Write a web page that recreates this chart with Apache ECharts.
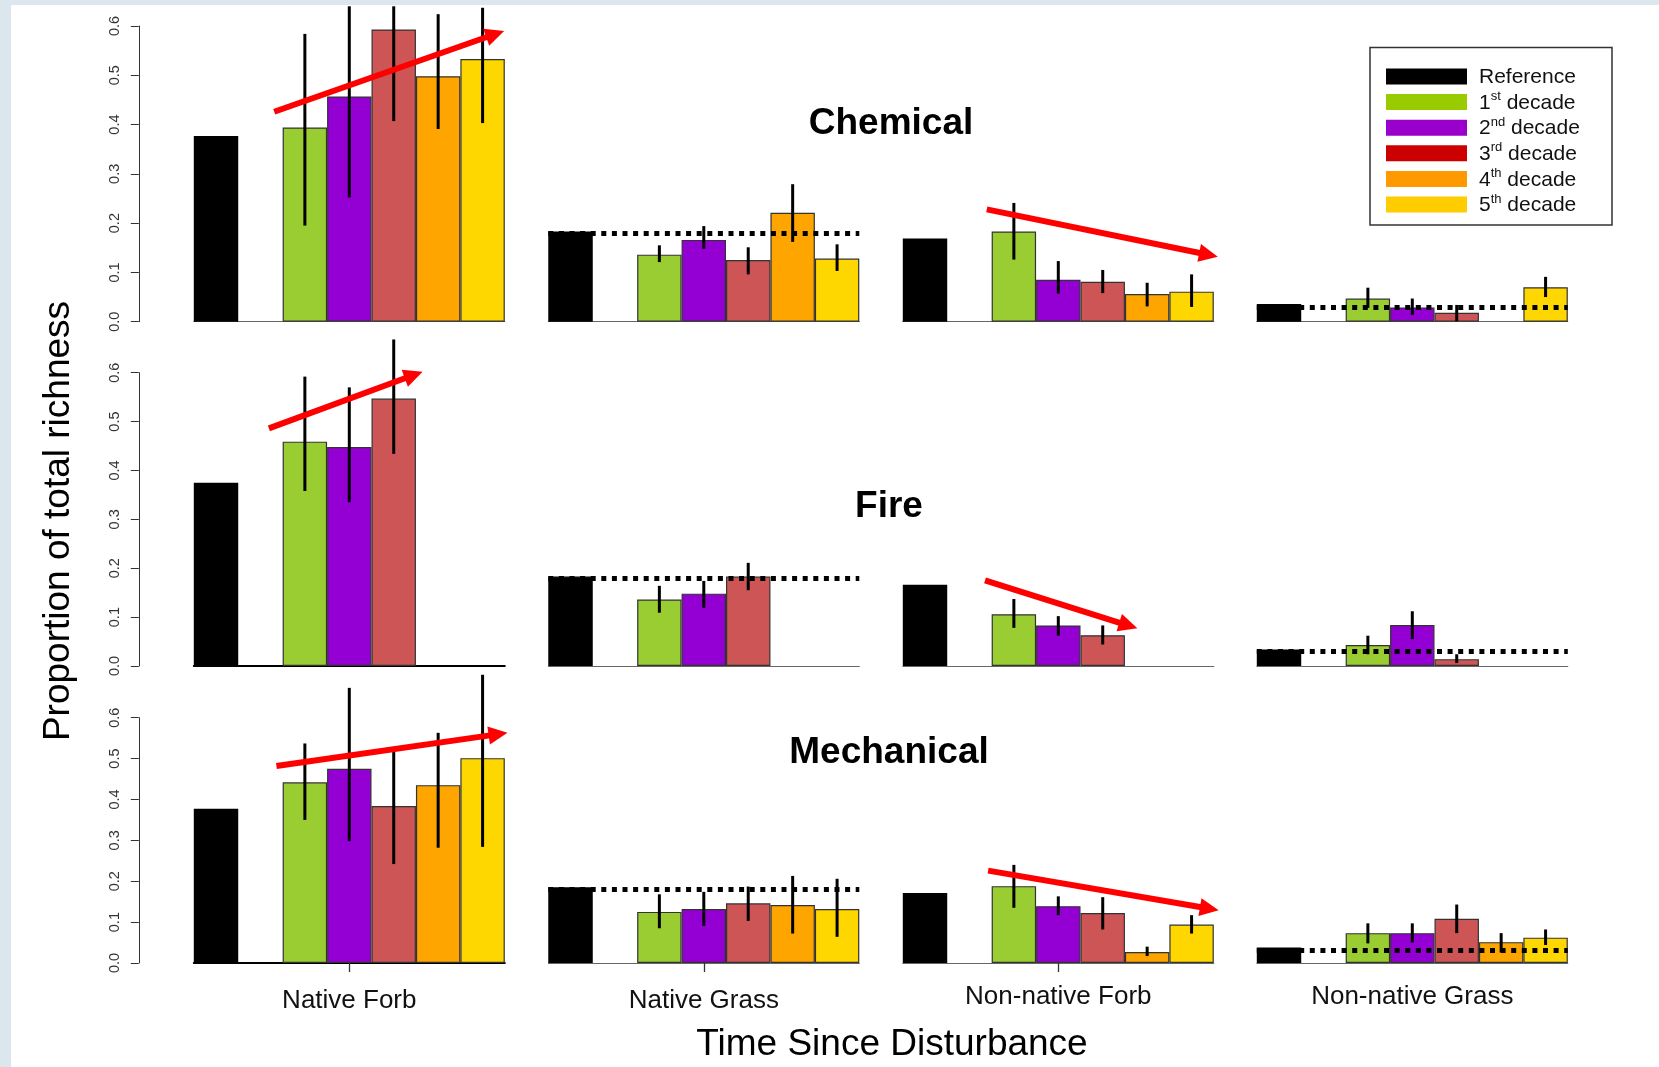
<!DOCTYPE html>
<html><head><meta charset="utf-8">
<script src="https://cdn.jsdelivr.net/npm/echarts@6/dist/echarts.min.js"></script>
<style>html,body{margin:0;padding:0;background:#fff}#c{width:1659px;height:1067px}</style>
</head><body><div id="c"></div>
<script>
// ---------- DATA ----------
const rowTitles = ['Chemical', 'Fire', 'Mechanical'];
const groupNames = ['Native Forb', 'Native Grass', 'Non-native Forb', 'Non-native Grass'];
const slotNames = ['Reference', '', '1st decade', '2nd decade', '3rd decade', '4th decade', '5th decade'];
const legendNums = ['Reference', '1', '2', '3', '4', '5'];
const legendSups = ['', 'st', 'nd', 'rd', 'th', 'th'];
const yAxisTitle = 'Proportion of total richness';
const xAxisTitle = 'Time Since Disturbance';

// means: [reference, 1st, 2nd, 3rd, 4th, 5th decade] per group
const chemicalMeans = [
  [0.377, 0.394, 0.457, 0.593, 0.498, 0.533],
  [0.183, 0.136, 0.166, 0.125, 0.221, 0.128],
  [0.169, 0.183, 0.085, 0.081, 0.056, 0.061],
  [0.036, 0.047, 0.029, 0.018, null, 0.070]
];
const chemicalLow = [
  [null, 0.195, 0.252, 0.407, 0.391, 0.403],
  [null, 0.121, 0.148, 0.096, 0.162, 0.103],
  [null, 0.126, 0.057, 0.058, 0.031, 0.030],
  [null, 0.028, 0.014, 0.001, null, 0.050]
];
const chemicalHigh = [
  [null, 0.584, 0.640, 0.640, 0.624, 0.637],
  [null, 0.155, 0.194, 0.151, 0.279, 0.157],
  [null, 0.241, 0.123, 0.105, 0.079, 0.096],
  [null, 0.069, 0.047, 0.034, null, 0.091]
];
const fireMeans = [
  [0.375, 0.459, 0.448, 0.547, null, null],
  [0.183, 0.136, 0.148, 0.183, null, null],
  [0.166, 0.106, 0.083, 0.063, null, null],
  [0.034, 0.043, 0.084, 0.014, null, null]
];
const fireLow = [
  [null, 0.358, 0.335, 0.434, null, null],
  [null, 0.109, 0.119, 0.155, null, null],
  [null, 0.078, 0.062, 0.044, null, null],
  [null, 0.024, 0.055, 0.006, null, null]
];
const fireHigh = [
  [null, 0.592, 0.570, 0.668, null, null],
  [null, 0.164, 0.174, 0.211, null, null],
  [null, 0.137, 0.102, 0.083, null, null],
  [null, 0.062, 0.112, 0.024, null, null]
];
const mechanicalMeans = [
  [0.377, 0.442, 0.475, 0.384, 0.435, 0.501],
  [0.185, 0.125, 0.132, 0.146, 0.142, 0.132],
  [0.171, 0.188, 0.139, 0.122, 0.027, 0.094],
  [0.038, 0.073, 0.073, 0.108, 0.051, 0.062]
];
const mechanicalLow = [
  [null, 0.350, 0.298, 0.242, 0.282, 0.284],
  [null, 0.085, 0.091, 0.103, 0.072, 0.064],
  [null, 0.135, 0.117, 0.082, 0.017, 0.072],
  [null, 0.048, 0.050, 0.073, 0.026, 0.044]
];
const mechanicalHigh = [
  [null, 0.537, 0.673, 0.517, 0.563, 0.705],
  [null, 0.168, 0.174, 0.187, 0.213, 0.206],
  [null, 0.240, 0.163, 0.161, 0.040, 0.117],
  [null, 0.097, 0.097, 0.143, 0.073, 0.082]
];
// dotted reference level per group (only grasses)
const referenceLines = [
  [null, 0.179, null, 0.032],
  [null, 0.181, null, 0.032],
  [null, 0.179, null, 0.034]
];
// trend arrows: [xStart, yStart, xEnd, yEnd]; x in bar-slot units from panel left edge (0..7)
const trendArrows = [
  [[1.81, 0.426, 6.985, 0.590], null, [1.89, 0.228, 7.09, 0.132], null],
  [[1.69, 0.486, 5.15, 0.602], null, [1.85, 0.175, 5.28, 0.077], null],
  [[1.86, 0.482, 7.06, 0.563], null, [1.92, 0.226, 7.11, 0.129], null]
];
const yMin = 0, yMax = 0.6, yStep = 0.1;

// ---------- STYLE / LAYOUT ----------
const barColors = ['#000000', '#9ACD32', '#9400D3', '#CD5555', '#FFA500', '#FFD700'];
const legendColors = ['#000000', '#99CC00', '#9900CC', '#CC0000', '#FF9900', '#FFCC00'];
const FONT = "'Liberation Sans', Arial, Helvetica, sans-serif";
const rowTop = [26, 372.7, 717.7];
const rowH = [295.7, 293.3, 245.3];
const colLeft = [193.8, 548.3, 902.8, 1256.8];
const colW = 311;

const allMeans = [chemicalMeans, fireMeans, mechanicalMeans];
const allLow = [chemicalLow, fireLow, mechanicalLow];
const allHigh = [chemicalHigh, fireHigh, mechanicalHigh];

const grids = [], xAxes = [], yAxes = [], series = [];
for (let r = 0; r < 3; r++) {
  for (let c = 0; c < 4; c++) {
    const g = r * 4 + c;
    grids.push({ left: colLeft[c], top: rowTop[r], width: colW, height: rowH[r], containLabel: false, outerBoundsMode: 'none' });
    const bottomRow = r === 2;
    const darkBase = c === 0 && r > 0;
    xAxes.push({
      type: 'category', gridIndex: g, data: slotNames, boundaryGap: true, position: 'bottom',
      axisLine: { show: true, onZero: false, lineStyle: { color: darkBase ? '#000' : '#666', width: darkBase ? 2 : 1 } },
      axisTick: { show: bottomRow && c < 3, alignWithLabel: true, interval: (i) => i === 3, length: 9, lineStyle: { color: '#333', width: 1.3 } },
      axisLabel: { show: false },
      splitLine: { show: false },
      name: bottomRow ? groupNames[c] : '',
      nameLocation: 'middle', nameGap: c < 2 ? 25 : 21,
      nameTextStyle: { fontSize: 26, color: '#111', fontFamily: FONT }
    });
    xAxes.push({ type: 'value', gridIndex: g, min: 0, max: 7, show: false, axisLine: { onZero: false } });
    yAxes.push({
      type: 'value', gridIndex: g, min: yMin, max: yMax, interval: yStep, show: c === 0, offset: 55, position: 'left',
      axisLine: { show: true, onZero: false, lineStyle: { color: '#333', width: 1 } },
      axisTick: { show: true, length: 8, lineStyle: { color: '#333', width: 1 } },
      axisLabel: { rotate: 90, fontSize: 14.5, color: '#333', margin: 16, fontFamily: FONT, formatter: (v) => v.toFixed(1) },
      splitLine: { show: false }
    });

    const m = allMeans[r][c];
    const slots = [m[0], null, m[1], m[2], m[3], m[4], m[5]];
    const barData = slots.map((v, i) => {
      if (v == null) return '-';
      const ci = i === 0 ? 0 : i - 1;
      return { value: v, itemStyle: { color: barColors[ci], borderColor: i === 0 ? '#000' : '#333', borderWidth: 1.2 } };
    });
    const ref = referenceLines[r][c];
    const barSeries = {
      type: 'bar', xAxisIndex: 2 * g, yAxisIndex: g, barWidth: '100%', barCategoryGap: '0%',
      data: barData, silent: true, z: 2
    };
    if (ref != null) {
      barSeries.markLine = {
        silent: true, symbol: ['none', 'none'], label: { show: false },
        lineStyle: { type: [5, 5.6], width: 5, color: '#000', cap: 'butt' },
        emphasis: { disabled: true },
        data: [{ yAxis: ref }]
      };
    }
    series.push(barSeries);

    const lo = allLow[r][c], hi = allHigh[r][c];
    const errData = [];
    for (let d = 1; d < 6; d++) {
      if (lo[d] != null && hi[d] != null) errData.push([d + 1, lo[d], hi[d]]);
    }
    series.push({
      type: 'custom', xAxisIndex: 2 * g, yAxisIndex: g, data: errData, encode: { x: 0, y: [1, 2] },
      silent: true, z: 4, clip: false,
      renderItem: (params, api) => {
        const p1 = api.coord([api.value(0), api.value(1)]);
        const p2 = api.coord([api.value(0), api.value(2)]);
        return { type: 'line', shape: { x1: p1[0], y1: p1[1], x2: p2[0], y2: p2[1] }, style: { stroke: '#000', lineWidth: 3 } };
      }
    });

    const arr = trendArrows[r][c];
    if (arr) {
      series.push({
        type: 'custom', xAxisIndex: 2 * g + 1, yAxisIndex: g, data: [arr], encode: { x: [0, 2], y: [1, 3] },
        silent: true, z: 6, clip: false,
        renderItem: (params, api) => {
          const a = api.coord([api.value(0), api.value(1)]);
          const b = api.coord([api.value(2), api.value(3)]);
          const dx = b[0] - a[0], dy = b[1] - a[1], L = Math.hypot(dx, dy);
          const ux = dx / L, uy = dy / L;
          const hl = 19, hw = 9;
          const bx = b[0] - ux * hl, by = b[1] - uy * hl;
          return {
            type: 'group', children: [
              { type: 'line', shape: { x1: a[0], y1: a[1], x2: bx + ux * 3, y2: by + uy * 3 }, style: { stroke: '#ff0000', lineWidth: 6 } },
              { type: 'polygon', shape: { points: [[b[0], b[1]], [bx - uy * hw, by + ux * hw], [bx + uy * hw, by - ux * hw]] }, style: { fill: '#ff0000' } }
            ]
          };
        }
      });
    }
  }
}

// ---------- GRAPHICS (frame, titles, legend) ----------
const graphics = [
  { type: 'rect', shape: { x: 0, y: 0, width: 11, height: 1067 }, style: { fill: '#dbe7ed' }, z: 100 },
  { type: 'rect', shape: { x: 0, y: 0, width: 1659, height: 5 }, style: { fill: '#dbe7ed' }, z: 100 },
  { type: 'text', x: 891, y: 124, style: { text: rowTitles[0], font: 'bold 37px ' + FONT, fill: '#000', textAlign: 'center', textVerticalAlign: 'middle' } },
  { type: 'text', x: 889, y: 507, style: { text: rowTitles[1], font: 'bold 37px ' + FONT, fill: '#000', textAlign: 'center', textVerticalAlign: 'middle' } },
  { type: 'text', x: 889, y: 753, style: { text: rowTitles[2], font: 'bold 37px ' + FONT, fill: '#000', textAlign: 'center', textVerticalAlign: 'middle' } },
  { type: 'text', x: 892, y: 1045, style: { text: xAxisTitle, font: '37px ' + FONT, fill: '#000', textAlign: 'center', textVerticalAlign: 'middle' } },
  { type: 'text', x: 59, y: 521, rotation: Math.PI / 2, style: { text: yAxisTitle, font: '37px ' + FONT, fill: '#000', textAlign: 'center', textVerticalAlign: 'middle' } },
  { type: 'rect', shape: { x: 1370, y: 47.5, width: 242, height: 177.5 }, style: { fill: '#fff', stroke: '#333', lineWidth: 1.5 }, z: 50 }
];
for (let i = 0; i < 6; i++) {
  const cy = 76.5 + 25.6 * i;
  graphics.push({ type: 'rect', shape: { x: 1386, y: cy - 8, width: 81, height: 16 }, style: { fill: legendColors[i] }, z: 51 });
  const txt = i === 0 ? '{n|' + legendNums[i] + '}' : '{n|' + legendNums[i] + '}{s|' + legendSups[i] + '}{n| decade}';
  graphics.push({
    type: 'text', x: 1479, y: cy + 1, z: 51,
    style: {
      text: txt, textAlign: 'left', textVerticalAlign: 'middle', fill: '#111',
      rich: {
        n: { fontSize: 21, fontFamily: FONT, lineHeight: 26, fill: '#111' },
        s: { fontSize: 13, fontFamily: FONT, lineHeight: 15, verticalAlign: 'top', fill: '#111' }
      }
    }
  });
}

const chart = echarts.init(document.getElementById('c'), null, { renderer: 'canvas' });
chart.setOption({
  animation: false,
  backgroundColor: '#ffffff',
  textStyle: { fontFamily: FONT },
  grid: grids, xAxis: xAxes, yAxis: yAxes, series: series,
  graphic: graphics
});
</script></body></html>
